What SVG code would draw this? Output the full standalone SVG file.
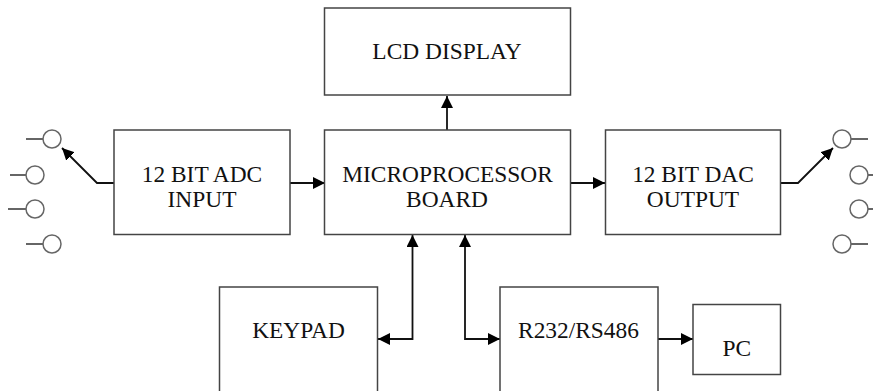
<svg xmlns="http://www.w3.org/2000/svg" width="873" height="391" viewBox="0 0 873 391">
<style>
rect{fill:#fff;stroke:#444;stroke-width:1.5}
circle{fill:#fff;stroke:#666;stroke-width:1.5}
.w{fill:none;stroke:#333;stroke-width:1.5}
.c{fill:none;stroke:#111;stroke-width:1.8}
text{font-family:"Liberation Serif","Times New Roman",serif;font-size:23.400px;fill:#111;text-anchor:middle}
</style>
<defs>
<marker id="a" markerUnits="userSpaceOnUse" markerWidth="12" markerHeight="12" refX="12" refY="6" orient="auto-start-reverse"><path d="M0 0L12 6L0 12Z" fill="#000"/></marker>
</defs>
<rect width="873" height="391" style="stroke:none"/>
<g id="connectors">
<path class="c" d="M114 183H97L62 148" marker-end="url(#a)"/>
<path class="c" d="M781 183H798L833 148" marker-end="url(#a)"/>
<path class="c" d="M290 183H325" marker-end="url(#a)"/>
<path class="c" d="M570 183H605" marker-end="url(#a)"/>
<path class="c" d="M447 130V96" marker-end="url(#a)"/>
<path class="c" d="M378 339H412.500V235" marker-start="url(#a)" marker-end="url(#a)"/>
<path class="c" d="M465 235V339H500" marker-start="url(#a)" marker-end="url(#a)"/>
<path class="c" d="M658 339H693" marker-end="url(#a)"/>
</g>
<g id="lcd"><rect x="324.500" y="8" width="246" height="87"/><text x="447" y="59">LCD DISPLAY</text></g>
<g id="micro"><rect x="324.500" y="130" width="246" height="104.500"/><text x="447.500" y="182">MICROPROCESSOR</text><text x="447" y="207">BOARD</text></g>
<g id="adc"><rect x="114" y="130" width="176" height="104.500"/><text x="202" y="182">12 BIT ADC</text><text x="202" y="207">INPUT</text></g>
<g id="dac"><rect x="605.500" y="130" width="175" height="104.500"/><text x="693" y="182">12 BIT DAC</text><text x="693" y="207">OUTPUT</text></g>
<g id="keypad"><rect x="219.500" y="287" width="158" height="120"/><text x="298.500" y="338">KEYPAD</text></g>
<g id="rs"><rect x="500" y="287" width="158" height="120"/><text x="578.500" y="338">R232/RS486</text></g>
<g id="pc"><rect x="693" y="304.500" width="87.500" height="70"/><text x="736.700" y="355.500">PC</text></g>
<g id="in1"><path class="w" d="M26 139H43"/><circle cx="52" cy="139" r="9"/></g>
<g id="in2"><path class="w" d="M10 175H26"/><circle cx="35" cy="175" r="9"/></g>
<g id="in3"><path class="w" d="M8 209H26"/><circle cx="35" cy="209" r="9"/></g>
<g id="in4"><path class="w" d="M26 244H43"/><circle cx="52" cy="244" r="9"/></g>
<g id="out1"><path class="w" d="M851 139H868"/><circle cx="842" cy="139" r="9"/></g>
<g id="out2"><path class="w" d="M868 175H873"/><circle cx="859" cy="175" r="9"/></g>
<g id="out3"><path class="w" d="M868 209H873"/><circle cx="859" cy="209" r="9"/></g>
<g id="out4"><path class="w" d="M851 244H868"/><circle cx="842" cy="244" r="9"/></g>
</svg>
